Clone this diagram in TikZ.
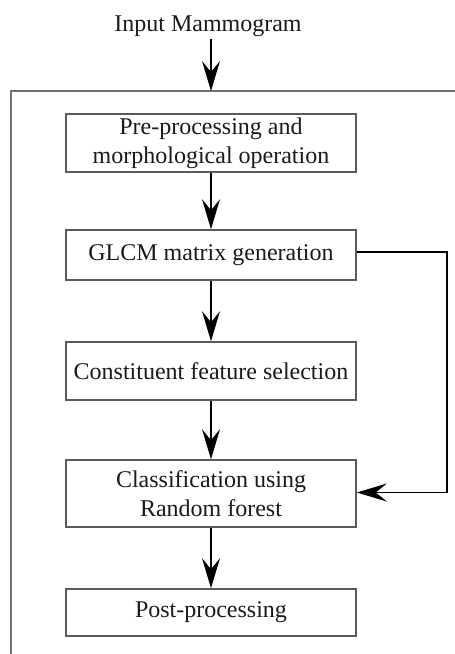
\documentclass[tikz,border=0pt]{standalone}
\usepackage{fontspec}
\setmainfont{Liberation Serif}
\usetikzlibrary{arrows.meta}
\definecolor{boxgray}{HTML}{5A5A5A}
\definecolor{framegray}{HTML}{707070}
\definecolor{inkblack}{HTML}{1A1A1A}
\begin{document}
\begin{tikzpicture}[x=1pt,y=-1pt,
  stage/.style={draw=boxgray, line width=1.6pt, minimum width=290pt,
    align=center, inner sep=0pt, text=inkblack,
    font=\fontsize{24}{29}\selectfont},
  label/.style={text=inkblack, inner sep=0pt, font=\fontsize{24}{29}\selectfont},
  flow/.style={-{Stealth[length=30pt,width=18pt,inset=11pt]}, line width=1.4pt, draw=black},
  frame/.style={draw=framegray, line width=1.3pt}
]
\useasboundingbox (0,0) rectangle (455,654);

% input label and the enclosing frame
\node[label] (input) at (208,26) {Input Mammogram};
\coordinate (ftop) at (211,91);
\coordinate (fright) at (455,91);
\coordinate (fcorner) at (11,91);
\coordinate (fbottom) at (11,654);
\draw[frame] (fright) -- (fcorner) -- (fbottom);

% processing stages
\node[stage, minimum height=58pt] (pre)   at (211,143)   {Pre-processing and\\morphological operation};
\node[stage, minimum height=50pt] (glcm)  at (211,255)   {GLCM matrix generation};
\node[stage, minimum height=58pt] (feat)  at (211,371)   {Constituent feature selection};
\node[stage, minimum height=67pt] (class) at (211,493.5) {Classification using\\Random forest};
\node[stage, minimum height=47pt] (post)  at (211,612.5) {Post-processing};

% connectors
\draw[flow] (input.south) ++(3,2) -- (ftop);
\draw[flow] (pre) -- (glcm);
\draw[flow] (glcm) -- (feat);
\draw[flow] (feat) -- (class);
\draw[flow] (class) -- (post);
\draw[flow] ([yshift=3pt]glcm.east) -- ++(90,0) |- ([yshift=1pt]class.east);
\end{tikzpicture}
\end{document}
